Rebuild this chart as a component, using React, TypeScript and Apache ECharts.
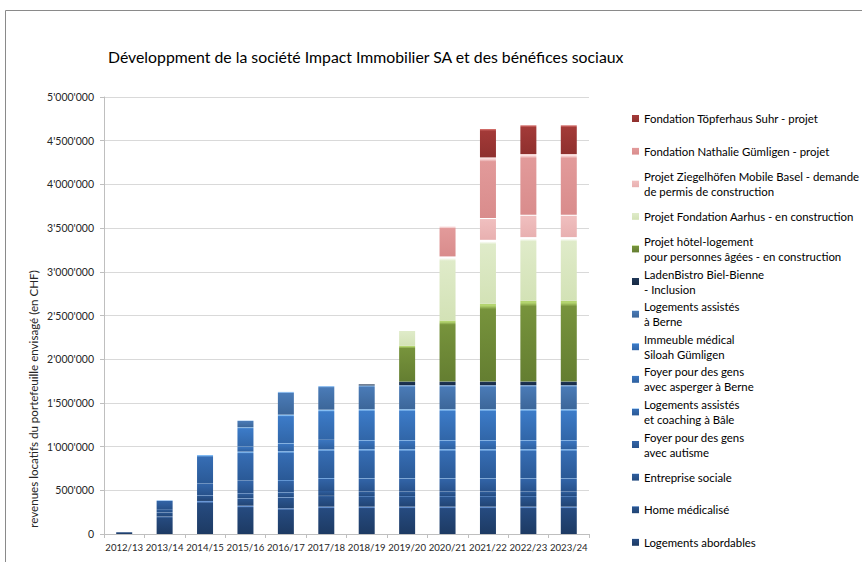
import React, { useEffect, useRef } from 'react';
import * as echarts from 'echarts';

const categories = ['2012/13', '2013/14', '2014/15', '2015/16', '2016/17', '2017/18', '2018/19', '2019/20', '2020/21', '2021/22', '2022/23', '2023/24'];

// values in CHF, stacked bottom to top
const logementsAbordables = [20000, 200000, 378000, 324000, 294000, 313000, 313000, 313000, 313000, 313000, 313000, 313000];
const homeMedicalise = [0, 46000, 65000, 84000, 126000, 124000, 122000, 122000, 122000, 122000, 122000, 122000];
const entrepriseSociale = [0, 38000, 0, 58000, 57000, 55000, 50000, 50000, 50000, 50000, 50000, 50000];
const foyerAutisme = [0, 101000, 134000, 145000, 141000, 148000, 152000, 152000, 152000, 152000, 152000, 152000];
const logementsBale = [0, 0, 327000, 332000, 329000, 328000, 333000, 333000, 333000, 333000, 333000, 333000];
const foyerAsperger = [0, 0, 0, 57000, 91000, 110000, 103000, 103000, 103000, 103000, 103000, 103000];
const immeubleMedical = [0, 0, 0, 221000, 328000, 345000, 355000, 355000, 355000, 355000, 355000, 355000];
const logementsBerne = [0, 0, 0, 77000, 260000, 270000, 272000, 274000, 274000, 274000, 274000, 274000];
const ladenBistro = [0, 0, 0, 0, 0, 0, 12000, 42000, 42000, 42000, 42000, 42000];
const hotelLogement = [0, 0, 0, 0, 0, 0, 0, 409000, 699000, 890000, 924000, 924000];
const fondationAarhus = [0, 0, 0, 0, 0, 0, 0, 179000, 733000, 732000, 729000, 729000];
const ziegelhoefen = [0, 0, 0, 0, 0, 0, 0, 0, 0, 249000, 256000, 256000];
const nathalieGuemligen = [0, 0, 0, 0, 0, 0, 0, 0, 343000, 694000, 694000, 694000];
const toepferhausSuhr = [0, 0, 0, 0, 0, 0, 0, 0, 0, 325000, 329000, 329000];

const seriesNames = [
  'Logements abordables',
  'Home médicalisé',
  'Entreprise sociale',
  'Foyer pour des gens\navec autisme',
  'Logements assistés\net coaching à Bâle',
  'Foyer pour des gens\navec asperger à Berne',
  'Immeuble médical\nSiloah Gümligen',
  'Logements assistés\nà Berne',
  'LadenBistro Biel-Bienne\n- Inclusion',
  'Projet hôtel-logement\npour personnes âgées - en construction',
  'Projet Fondation Aarhus - en construction',
  'Projet Ziegelhöfen Mobile Basel - demande\nde permis de construction',
  'Fondation Nathalie Gümligen - projet',
  'Fondation Töpferhaus Suhr - projet',
];

const seriesValues = [
  logementsAbordables, homeMedicalise, entrepriseSociale, foyerAutisme, logementsBale,
  foyerAsperger, immeubleMedical, logementsBerne, ladenBistro, hotelLogement,
  fondationAarhus, ziegelhoefen, nathalieGuemligen, toepferhausSuhr,
];

const palette = [
  { light: '#6a97d6', base: '#264b80', dark: '#1d3a63' },
  { light: '#73a2de', base: '#2a5590', dark: '#214474' },
  { light: '#78aae6', base: '#2e5d9c', dark: '#244b80' },
  { light: '#7db2ec', base: '#3264a7', dark: '#27518a' },
  { light: '#82baf2', base: '#366db4', dark: '#2a5996' },
  { light: '#88c0f5', base: '#3a75bf', dark: '#2e609f' },
  { light: '#8cc4f7', base: '#3c7bc8', dark: '#3166a8' },
  { light: '#8fbdee', base: '#4a7bb7', dark: '#3c6699' },
  { light: '#3a5a85', base: '#1f3656', dark: '#172a44' },
  { light: '#b3d46f', base: '#77933c', dark: '#647e31' },
  { light: '#ffffff', base: '#dfebc9', dark: '#d3e2b6' },
  { light: '#ffffff', base: '#f0bfbf', dark: '#e8b0b0' },
  { light: '#fbe0e0', base: '#e29a9a', dark: '#d98c8c' },
  { light: '#cf6a66', base: '#a33a38', dark: '#8f302e' },
];

const FONT = 'Lato, "Open Sans", sans-serif';

const fmt = (v: number) => String(v).replace(/\B(?=(\d{3})+(?!\d))/g, "'");

export default function App() {
  const ref = useRef<HTMLDivElement>(null);
  useEffect(() => {
    if (!ref.current) return;
    const chart = echarts.init(ref.current, undefined, { renderer: 'svg' });
    const series = seriesNames.map((name, i) => ({
      name,
      type: 'bar',
      stack: 'total',
      barWidth: 16,
      data: seriesValues[i],
      itemStyle: {
        color: new echarts.graphic.LinearGradient(0, 0, 0, 1, [
          { offset: 0, color: palette[i].light },
          { offset: 0.025, color: palette[i].light },
          { offset: 0.07, color: palette[i].base },
          { offset: 1, color: palette[i].dark },
        ]),
      },
    }));
    const legendData = seriesNames.slice().reverse().map((name) => {
      const twoLines = name.indexOf('\n') >= 0;
      return {
        name,
        textStyle: { padding: twoLines ? [15, 0, 0, 0] : [15, 0, 15, 0] },
      };
    });
    chart.setOption({
      animation: false,
      backgroundColor: '#ffffff',
      textStyle: { fontFamily: FONT },
      title: {
        text: 'Développment de la société Impact Immobilier SA et des bénéfices sociaux',
        left: 108,
        top: 48,
        padding: 0,
        textStyle: { fontFamily: FONT, fontSize: 15.8, fontWeight: 'normal', color: '#000' },
      },
      grid: { left: 104, right: 273, top: 97, bottom: 28, containLabel: false },
      legend: {
        orient: 'vertical',
        left: 632,
        top: 96,
        height: 490,
        padding: 0,
        itemGap: -12.4,
        itemWidth: 7,
        itemHeight: 7,
        icon: 'rect',
        selectedMode: false,
        data: legendData,
        textStyle: {
          fontFamily: FONT,
          fontSize: 11.4,
          lineHeight: 15,
          color: '#000',
          backgroundColor: 'rgba(0,0,0,0)',
        },
      },
      xAxis: {
        type: 'category',
        data: categories,
        axisLine: { lineStyle: { color: '#bfbfbf' } },
        axisTick: { show: true, length: 4, lineStyle: { color: '#bfbfbf' } },
        axisLabel: { interval: 0, margin: 8, fontSize: 9.6, color: '#262626', fontFamily: FONT },
      },
      yAxis: {
        type: 'value',
        min: 0,
        max: 5000000,
        interval: 500000,
        axisLine: { show: true, lineStyle: { color: '#bfbfbf' } },
        axisTick: { show: true, length: 4, lineStyle: { color: '#bfbfbf' } },
        splitLine: { lineStyle: { color: '#d9d9d9' } },
        axisLabel: { margin: 10, fontSize: 10.5, color: '#262626', fontFamily: FONT, formatter: fmt },
      },
      graphic: [
        {
          type: 'rect',
          shape: { x: 5.5, y: 10.5, width: 1000, height: 1000 },
          style: { fill: 'none', stroke: '#8a8a8a', lineWidth: 1 },
          silent: true,
        },
        {
          type: 'text',
          x: 33,
          y: 399,
          rotation: Math.PI / 2,
          style: {
            text: 'revenues locatifs du portefeuille envisagé (en CHF)',
            align: 'center',
            verticalAlign: 'middle',
            fontFamily: FONT,
            fontSize: 11.6,
            fill: '#262626',
          },
        },
      ],
      series,
    });
    return () => chart.dispose();
  }, []);
  return (
    <div
      ref={ref}
      style={{ position: 'absolute', left: 0, top: 0, width: 862, height: 562, background: '#fff' }}
    />
  );
}
